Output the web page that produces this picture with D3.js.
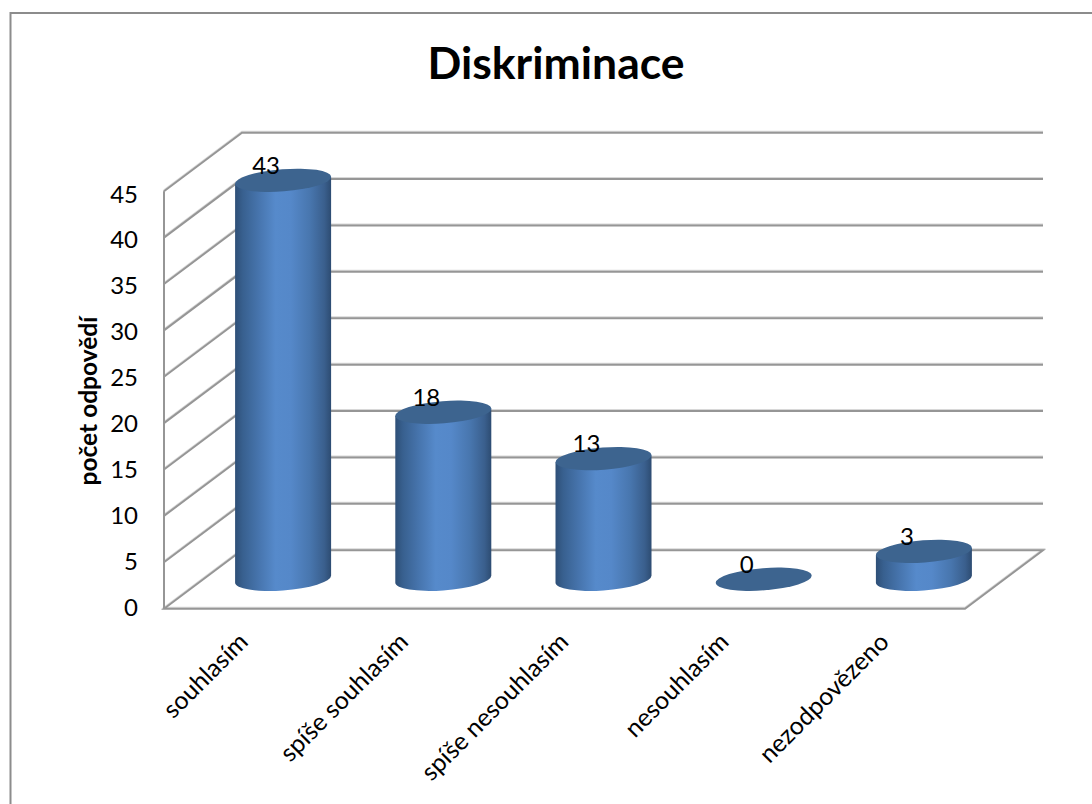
<!DOCTYPE html>
<html lang="cs">
<head>
<meta charset="utf-8">
<title>Diskriminace</title>
<script src="https://cdn.jsdelivr.net/npm/d3@7/dist/d3.min.js"></script>
<style>
  html, body { margin: 0; padding: 0; background: #fff; }
  svg { display: block; font-family: Lato, "Open Sans", sans-serif; }
</style>
</head>
<body>
<div id="chart"></div>
<script>
const categories = ["souhlasím", "spíše souhlasím", "spíše nesouhlasím", "nesouhlasím", "nezodpovězeno"];
const answers = [43, 18, 13, 0, 3];
const valueTicks = [0, 5, 10, 15, 20, 25, 30, 35, 40, 45];
const chartTitle = "Diskriminace";
const valueAxisTitle = "počet odpovědí";

const width = 1092, height = 804;

// Oblique projection: the floor runs back up and to the right of the front plane.
const depth = { x: 78, y: -58.5 };
const x = d3.scaleBand().domain(categories).range([164, 965]);
const y = d3.scaleLinear().domain([0, 45]).range([608.5, 191]);
const tickBaseline = d3.scaleLinear().domain([0, 45]).range([615.5, 202.5]);

// Cylinder cross-section: a tilted ellipse sitting half way along the floor depth.
const cap = { a: 48.1, b: 11.1, tilt: -4.4, ex: 48, ey: 3.5 };
const centerX = c => x(c) + x.bandwidth() / 2 + depth.x / 2;
const levelY = v => y(v) + depth.y / 2;

const svg = d3.select("#chart").append("svg")
  .attr("width", width).attr("height", height);

const grad = svg.append("defs").append("linearGradient")
  .attr("id", "cylinder").attr("x1", 0).attr("x2", 1).attr("y1", 0).attr("y2", 0);
[[0, "#2e4f77"], [0.08, "#38608f"], [0.25, "#4775ae"], [0.42, "#568acb"],
 [0.58, "#5588c9"], [0.78, "#4876ae"], [0.93, "#3a5f8d"], [1, "#2d4c72"]]
  .forEach(([o, c]) => grad.append("stop").attr("offset", o).attr("stop-color", c));

// Chart frame: top and left edges only, both run off the page.
svg.append("path")
  .attr("d", `M10.5,${height} V13 H${width}`)
  .attr("fill", "none").attr("stroke", "#8c8c8c").attr("stroke-width", 2);

svg.append("text")
  .attr("x", 556).attr("y", 79).attr("text-anchor", "middle")
  .attr("font-size", 44.5).attr("font-weight", 700).attr("fill", "#000")
  .text(chartTitle);

// Walls and floor of the box, each line with a pale edge above a darker core
const [fx0, fx1] = x.range();
function drawBox(color, strokeWidth, dy) {
  const grid = svg.append("g").attr("fill", "none")
    .attr("transform", `translate(0,${dy})`)
    .attr("stroke", color).attr("stroke-width", strokeWidth);
  grid.selectAll("path").data(valueTicks).join("path")
    .attr("d", v => v === 0
      ? `M${fx0},${y(0)} L${fx0 + depth.x},${y(0) + depth.y} H${fx1 + depth.x} L${fx1},${y(0)} Z`
      : `M${fx0},${y(v)} L${fx0 + depth.x},${y(v) + depth.y} H${fx1 + depth.x}`);
  grid.append("line")
    .attr("x1", fx0).attr("x2", fx0).attr("y1", y(45)).attr("y2", y(0));
}
drawBox("#d8d8d8", 2, -0.8);
drawBox("#969696", 2, 0.2);

// Value axis labels
svg.append("g").selectAll("text").data(valueTicks).join("text")
  .attr("x", 138).attr("y", v => tickBaseline(v))
  .attr("text-anchor", "end").attr("font-size", 24).attr("fill", "#000")
  .text(v => v);

svg.append("text")
  .attr("transform", "translate(96.5,401) rotate(-90)")
  .attr("text-anchor", "middle").attr("font-size", 24.5).attr("font-weight", 700)
  .attr("fill", "#000").text(valueAxisTitle);

// Cylinders: body first, then the darker lid on top
const bars = svg.append("g").selectAll("g")
  .data(categories.map((c, i) => ({ c, v: answers[i] })))
  .join("g");

bars.filter(d => d.v > 0).append("path")
  .attr("fill", "url(#cylinder)")
  .attr("d", d => {
    const cx = centerX(d.c), top = levelY(d.v), base = levelY(0);
    return `M${cx - cap.ex},${top + cap.ey} L${cx - cap.ex},${base + cap.ey}` +
      ` A${cap.a},${cap.b} ${cap.tilt} 0 0 ${cx + cap.ex},${base - cap.ey}` +
      ` L${cx + cap.ex},${top - cap.ey} Z`;
  });

bars.append("ellipse")
  .attr("rx", cap.a).attr("ry", cap.b).attr("fill", "#3d648f")
  .attr("transform", d => `translate(${centerX(d.c)},${levelY(d.v)}) rotate(${cap.tilt})`);

// Value labels sit on the lid, slightly left of its centre
bars.append("text")
  .attr("x", d => centerX(d.c) - 17).attr("y", d => levelY(d.v) - 6.5)
  .attr("text-anchor", "middle").attr("font-size", 24).attr("fill", "#000")
  .text(d => d.v);

// Category labels, rotated and ending under each column
svg.append("g").selectAll("text").data(categories).join("text")
  .attr("transform", c => `translate(${x(c) + x.bandwidth() / 2 + 1},639) rotate(-45)`)
  .attr("text-anchor", "end").attr("dominant-baseline", "middle")
  .attr("font-size", 24.8).attr("fill", "#000")
  .text(c => c);
</script>
</body>
</html>
